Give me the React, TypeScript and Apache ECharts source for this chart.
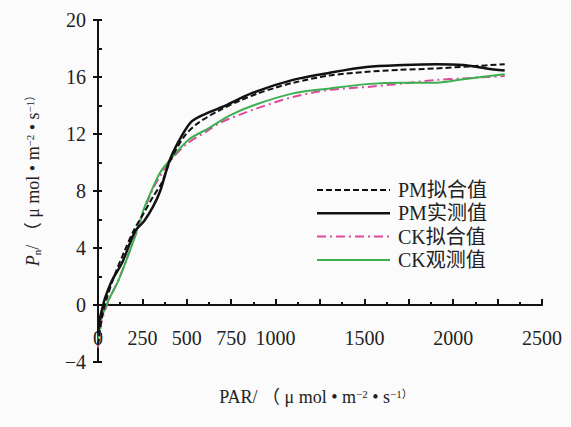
import React, { useEffect, useRef } from "react";
import * as echarts from "echarts";

const seriesNames = ["PM拟合值", "PM实测值", "CK拟合值", "CK观测值"];

const pmFit: [number, number][] = [
  [0, -2.8], [20, -1.0], [50, 0.5], [100, 2.3], [150, 3.8], [200, 5.2],
  [260, 6.5], [310, 7.6], [360, 8.6], [410, 10.2], [490, 11.9], [567, 12.8],
  [690, 13.7], [800, 14.35], [900, 14.85], [1000, 15.25], [1100, 15.6],
  [1300, 16.1], [1500, 16.35], [1700, 16.5], [1900, 16.6], [2100, 16.75], [2290, 16.9],
];

const pmObs: [number, number][] = [
  [0, -2.0], [10, -1.0], [25, -0.2], [40, 0.5], [80, 1.75], [135, 2.95],
  [210, 5.2], [260, 5.9], [310, 6.9], [350, 8.0], [405, 10.2], [473, 11.9],
  [529, 12.9], [602, 13.4], [700, 13.9], [873, 14.9], [1098, 15.8], [1306, 16.3],
  [1513, 16.7], [1718, 16.84], [1907, 16.9], [2056, 16.84], [2188, 16.6], [2290, 16.45],
];

const ckFit: [number, number][] = [
  [0, -3.0], [20, -1.2], [60, 0.3], [120, 1.9], [200, 4.5], [300, 7.9],
  [400, 10.0], [500, 11.3], [600, 12.1], [690, 12.8], [873, 13.7], [1098, 14.6],
  [1306, 15.1], [1513, 15.3], [1718, 15.55], [1907, 15.8], [2056, 15.9], [2290, 16.07],
];

const ckObs: [number, number][] = [
  [0, -2.8], [5, -2.0], [23, -0.8], [60, 0.35], [116, 1.75], [191, 4.2],
  [225, 5.5], [260, 6.8], [304, 8.1], [350, 9.3], [407, 10.2], [510, 11.6],
  [623, 12.4], [743, 13.3], [873, 14.0], [1098, 14.85], [1306, 15.2], [1513, 15.5],
  [1718, 15.6], [1907, 15.6], [2056, 15.84], [2290, 16.2],
];

const hiddenXLabels = [1250, 1750, 2250];
const xName = "PAR/ （ μ mol • m{sup|−2} • s{sup|−1}{sup|）}";
const yName = "{it|P}{sub|n}/ （ μ mol • m{sup|−2} • s{sup|−1}{sup|）}";

const FONT = "'Liberation Serif', 'Times New Roman', 'Noto Sans CJK SC', serif";

const colors = ["#111", "#111", "#e0489e", "#3cb050"];
const widths = [2, 2.5, 2, 2];
const dashes: (number[] | null)[] = [[6, 3], null, [9, 4, 2, 4], null];

export default function App() {
  const ref = useRef<HTMLDivElement>(null);
  useEffect(() => {
    if (!ref.current) return;
    const chart = echarts.init(ref.current, null, { renderer: "svg" });
    const richStyles = {
      sup: { fontSize: 11, verticalAlign: "top", fontFamily: FONT, fill: "#222" },
      sub: { fontSize: 11, verticalAlign: "bottom", fontFamily: FONT, fill: "#222" },
      it: { fontSize: 18, fontStyle: "italic", fontFamily: FONT, fill: "#222" },
    };
    const legendTop = 190;
    const legendStep = 23.3;
    const legendGraphics: any[] = [];
    seriesNames.forEach((name, i) => {
      const y = legendTop + i * legendStep;
      legendGraphics.push({
        type: "line",
        shape: { x1: 317, y1: y, x2: 390, y2: y },
        style: {
          stroke: colors[i],
          lineWidth: widths[i],
          lineDash: dashes[i] || undefined,
        },
      });
      legendGraphics.push({
        type: "text",
        x: 398,
        y: y,
        style: {
          text: name,
          fontSize: 20,
          fontFamily: FONT,
          fill: "#222",
          align: "left",
          verticalAlign: "middle",
        },
      });
    });
    chart.setOption({
      animation: false,
      backgroundColor: "#fbfbfb",
      grid: { left: 98, right: 29, top: 20, bottom: 65 },
      xAxis: {
        type: "value",
        min: 0,
        max: 2500,
        interval: 250,
        splitLine: { show: false },
        axisLine: { onZero: true, lineStyle: { color: "#111", width: 2 } },
        axisTick: { inside: true, length: 6, lineStyle: { color: "#111", width: 2 } },
        minorTick: { show: true, splitNumber: 2, length: 3, lineStyle: { color: "#111", width: 2 } },
        axisLabel: {
          margin: -34,
          fontSize: 20,
          fontFamily: FONT,
          color: "#222",
          showMinLabel: true,
          showMaxLabel: true,
          formatter: (v: number) => (hiddenXLabels.includes(v) ? "" : String(v)),
        },
      },
      yAxis: [
        {
          type: "value",
          min: -4,
          max: 20,
          interval: 4,
          position: "left",
          splitLine: { show: false },
          axisLine: { onZero: false, lineStyle: { color: "#111", width: 2 } },
          axisTick: { inside: false, length: 5, lineStyle: { color: "#111", width: 2 } },
          axisLabel: {
            margin: 12,
            fontSize: 20,
            fontFamily: FONT,
            color: "#222",
            formatter: (v: number) => (v < 0 ? "−" + Math.abs(v) : String(v)),
          },
        },
        {
          type: "value",
          min: -4,
          max: 20,
          interval: 2,
          position: "left",
          splitLine: { show: false },
          axisLine: { show: false, onZero: false },
          axisTick: { inside: true, length: 4, lineStyle: { color: "#111", width: 2 } },
          axisLabel: { show: false },
        },
      ],
      graphic: [
        {
          type: "text",
          x: 316,
          y: 397,
          style: {
            text: xName,
            fontSize: 18,
            fontFamily: FONT,
            fill: "#222",
            align: "center",
            verticalAlign: "middle",
            rich: richStyles,
          },
        },
        {
          type: "text",
          x: 33,
          y: 178,
          rotation: Math.PI / 2,
          style: {
            text: yName,
            fontSize: 18,
            fontFamily: FONT,
            fill: "#222",
            align: "center",
            verticalAlign: "middle",
            rich: richStyles,
          },
        },
        ...legendGraphics,
      ],
      series: [
        {
          name: seriesNames[0],
          type: "line",
          data: pmFit,
          smooth: 0.3,
          symbol: "none",
          z: 4,
          lineStyle: { color: colors[0], width: widths[0], type: dashes[0] },
        },
        {
          name: seriesNames[1],
          type: "line",
          data: pmObs,
          smooth: 0.3,
          symbol: "none",
          z: 3,
          lineStyle: { color: colors[1], width: widths[1] },
        },
        {
          name: seriesNames[2],
          type: "line",
          data: ckFit,
          smooth: 0.3,
          symbol: "none",
          z: 2,
          lineStyle: { color: colors[2], width: widths[2], type: dashes[2] },
        },
        {
          name: seriesNames[3],
          type: "line",
          data: ckObs,
          smooth: 0.3,
          symbol: "none",
          z: 2,
          lineStyle: { color: colors[3], width: widths[3] },
        },
      ],
    });
    return () => chart.dispose();
  }, []);
  return (
    <div
      ref={ref}
      style={{ position: "fixed", left: 0, top: 0, width: 571, height: 427 }}
    />
  );
}
